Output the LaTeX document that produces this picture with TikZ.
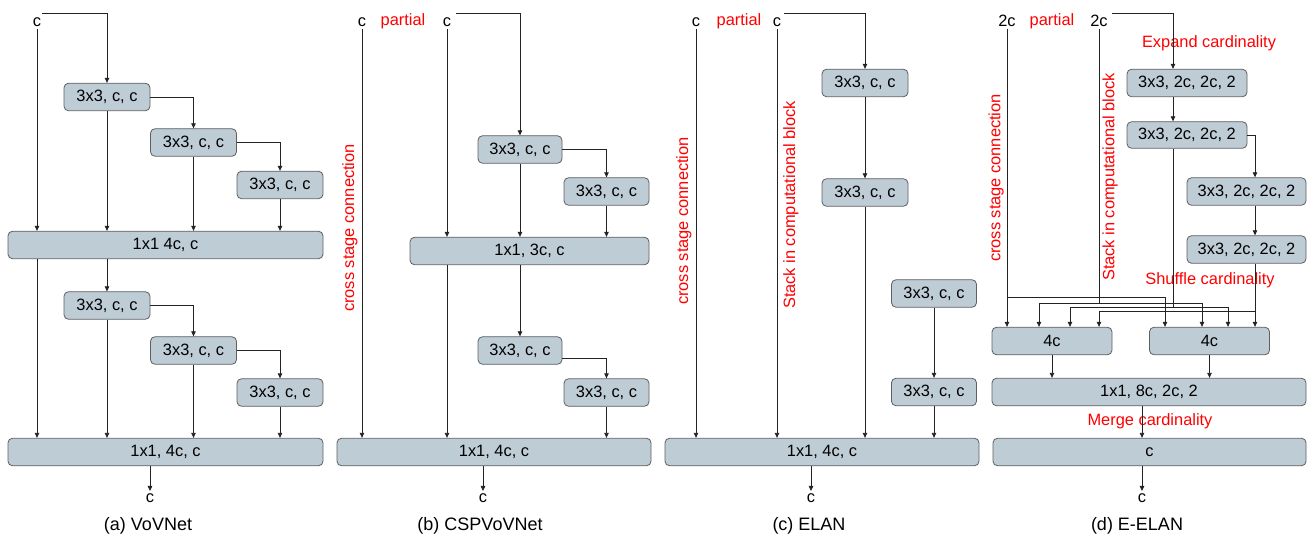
\documentclass[tikz,border=0pt]{standalone}
\usepackage{fontspec}
\setmainfont{Liberation Sans}
\usetikzlibrary{arrows.meta,calc}
\definecolor{boxfill}{RGB}{190,204,214}
\definecolor{boxline}{RGB}{95,95,95}
\definecolor{lineclr}{RGB}{35,35,35}
\definecolor{redtxt}{RGB}{255,0,0}
\newcommand{\fsb}{\fontsize{16.4}{19}\selectfont}
\newcommand{\fcap}{\fontsize{18}{21}\selectfont}
\tikzset{
  blk/.style={draw=boxline, fill=boxfill, rounded corners=4.5pt, line width=0.8pt, inner sep=0pt, minimum height=27.5pt, font=\fsb},
  arr/.style={draw=lineclr, line width=0.8pt, -{Triangle[length=5pt,width=4.5pt]}},
  ln/.style={draw=lineclr, line width=0.8pt},
  lbl/.style={inner sep=2pt, font=\fsb, anchor=base},
  redlbl/.style={inner sep=2pt, font=\fsb, text=redtxt, anchor=base},
  redrot/.style={inner sep=0pt, font=\fsb, text=redtxt, rotate=90},
  caplbl/.style={inner sep=0pt, font=\fcap, anchor=base}
}
\begin{document}
\begin{tikzpicture}[x=1pt,y=-1pt]
\useasboundingbox (0,0) rectangle (1312,537);

% ================= (a) VoVNet =================
\node[lbl] (ain) at (37,27) {c};
\coordinate (aS) at (42,13);
\node[blk, minimum width=86pt] (a1) at (107,97) {3x3, c, c};
\node[blk, minimum width=86pt] (a2) at (193.5,142.5) {3x3, c, c};
\node[blk, minimum width=86pt] (a3) at (280,185) {3x3, c, c};
\node[blk, minimum width=315pt] (aM) at (165.5,245) {1x1 4c, c};
\node[blk, minimum width=86pt] (a4) at (107,305.5) {3x3, c, c};
\node[blk, minimum width=86pt] (a5) at (193.5,350.5) {3x3, c, c};
\node[blk, minimum width=86pt] (a6) at (280,392.5) {3x3, c, c};
\node[blk, minimum width=315pt] (aF) at (165.5,452) {1x1, 4c, c};
\node[lbl] (aout) at (150,502) {c};
\node[caplbl] (acap) at (148,530) {(a) VoVNet};

\draw[arr] (aS) -| (a1.north);
\draw[arr] (ain.south) -- (ain.south |- aM.north);
\draw[arr] (a1.east) -| (a2.north);
\draw[arr] (a2.east) -| (a3.north);
\draw[arr] (a1.south) -- (a1.south |- aM.north);
\draw[arr] (a2.south) -- (a2.south |- aM.north);
\draw[arr] (a3.south) -- (a3.south |- aM.north);
\draw[arr] (a4.north |- aM.south) -- (a4.north);
\draw[arr] (ain.south |- aM.south) -- (ain.south |- aF.north);
\draw[arr] (a4.east) -| (a5.north);
\draw[arr] (a5.east) -| (a6.north);
\draw[arr] (a4.south) -- (a4.south |- aF.north);
\draw[arr] (a5.south) -- (a5.south |- aF.north);
\draw[arr] (a6.south) -- (a6.south |- aF.north);
\draw[arr] (aout |- aF.south) -- (aout.north);

% ================= (b) CSPVoVNet =================
\node[lbl] (bin1) at (362,27) {c};
\node[redlbl] (bpart) at (403,26) {partial};
\node[lbl] (bin2) at (447,27) {c};
\coordinate (bS) at (456,13);
\node[redrot] (bcross) at (350,228) {cross stage connection};
\node[blk, minimum width=84pt] (b1) at (520,149.5) {3x3, c, c};
\node[blk, minimum width=85pt] (b2) at (606.5,191.5) {3x3, c, c};
\node[blk, minimum width=239pt] (bM) at (529.5,251) {1x1, 3c, c};
\node[blk, minimum width=84pt] (b3) at (520,350.5) {3x3, c, c};
\node[blk, minimum width=85pt] (b4) at (606.5,392.5) {3x3, c, c};
\node[blk, minimum width=314pt] (bF) at (494,452) {1x1, 4c, c};
\node[lbl] (bout) at (483,502) {c};
\node[caplbl] (bcap) at (480,530) {(b) CSPVoVNet};

\draw[arr] (bS) -| (b1.north);
\draw[arr] (bin1.south) -- (bin1.south |- bF.north);
\draw[arr] (bin2.south) -- (bin2.south |- bM.north);
\draw[arr] (b1.east) -| (b2.north);
\draw[arr] (b1.south) -- (b1.south |- bM.north);
\draw[arr] (b2.south) -- (b2.south |- bM.north);
\draw[arr] (bin2.south |- bM.south) -- (bin2.south |- bF.north);
\draw[arr] (b3.north |- bM.south) -- (b3.north);
\draw[arr] ([yshift=-8pt]b3.east) -| (b4.north);
\draw[arr] (b4.south) -- (b4.south |- bF.north);
\draw[arr] (bout |- bF.south) -- (bout.north);

% ================= (c) ELAN =================
\node[lbl] (cin1) at (696,27) {c};
\node[redlbl] (cpart) at (739,26) {partial};
\node[lbl] (cin2) at (777,27) {c};
\coordinate (cS) at (784,13);
\node[redrot] (ccross) at (684,221) {cross stage connection};
\node[redrot] (cstack) at (791,205) {Stack in computational block};
\node[blk, minimum width=86pt] (c1) at (865,83) {3x3, c, c};
\node[blk, minimum width=86pt] (c2) at (865,192.5) {3x3, c, c};
\node[blk, minimum width=85pt] (c3) at (934,293.5) {3x3, c, c};
\node[blk, minimum width=85pt] (c4) at (934,392) {3x3, c, c};
\node[blk, minimum width=314pt] (cF) at (822,452) {1x1, 4c, c};
\node[lbl] (cout) at (811,502) {c};
\node[caplbl] (ccap) at (809,530) {(c) ELAN};

\draw[arr] (cS) -| (c1.north);
\draw[arr] (cin1.south) -- (cin1.south |- cF.north);
\draw[arr] (cin2.south) -- (cin2.south |- cF.north);
\draw[arr] (c1.south) -- (c2.north);
\draw[arr] (c2.south) -- (c2.south |- cF.north);
\draw[arr] (c3.south) -- (c4.north);
\draw[arr] (c4.south) -- (c4.south |- cF.north);
\draw[arr] (cout |- cF.south) -- (cout.north);

% ================= (d) E-ELAN =================
\node[lbl] (din1) at (1007,27) {2c};
\node[redlbl] (dpart) at (1052,26) {partial};
\node[lbl] (din2) at (1099,27) {2c};
\coordinate (dS) at (1112,13);
\coordinate (dcol) at (1173,0);
\coordinate (dcol2) at (1255,0);
\node[redlbl] (expand) at (1209,47.5) {Expand cardinality};
\node[redrot] (dcross) at (996,178) {cross stage connection};
\node[redrot] (dstack) at (1110,177) {Stack in computational block};
\node[blk, minimum width=120pt] (e1) at (1187,83) {3x3, 2c, 2c, 2};
\node[blk, minimum width=120pt, minimum height=26.5pt] (e2) at (1187,135) {3x3, 2c, 2c, 2};
\node[blk, minimum width=119pt] (e3) at (1246.5,191.5) {3x3, 2c, 2c, 2};
\node[blk, minimum width=119pt] (e4) at (1246.5,249.5) {3x3, 2c, 2c, 2};
\node[redlbl] (shuffle) at (1210,285) {Shuffle cardinality};
\node[blk, minimum width=120pt] (g1) at (1052,341) {4c};
\node[blk, minimum width=120pt] (g2) at (1209.5,341) {4c};
\node[blk, minimum width=314pt] (dM) at (1149,392) {1x1, 8c, 2c, 2};
\node[blk, minimum width=313pt] (dF) at (1149.5,452) {c};
\node[redlbl] (merge) at (1150,425) {Merge cardinality};
\node[lbl] (dout) at (1142,502) {c};
\node[caplbl] (dcap) at (1137,530) {(d) E-ELAN};

\draw[arr] (dS) -| (dcol |- e1.north);
\draw[arr] (dcol |- e1.south) -- (dcol |- e2.north);
\draw[arr] (e2.east) -| (dcol2 |- e3.north);
\draw[arr] (dcol2 |- e3.south) -- (dcol2 |- e4.north);

% shuffle
\coordinate (sh1) at (1007,297);
\coordinate (sh2) at (1099,303);
\coordinate (sh3) at (1173,307);
\coordinate (sh4) at (1255,311);
\coordinate (L2) at (1039,0);
\coordinate (L3) at (1070,0);
\coordinate (R1) at (1165,0);
\coordinate (R2) at (1202,0);
\coordinate (R3) at (1228,0);

\draw[arr] (din1.south) -- (din1.south |- g1.north);
\draw[arr] (sh1) -| (R1 |- g2.north);
\draw[ln] (din2.south) -- (sh2);
\draw[arr] (sh2) -| (L2 |- g1.north);
\draw[arr] (sh2) -| (R2 |- g2.north);
\draw[ln] (dcol |- e2.south) -- (sh3);
\draw[arr] (sh3) -| (L3 |- g1.north);
\draw[arr] (sh3) -| (R3 |- g2.north);
\draw[ln] (dcol2 |- e4.south) -- (sh4);
\draw[arr] (sh4) -- (dcol2 |- g2.north);
\draw[arr] (sh4) -| (sh2 |- g1.north);

\draw[arr] (g1.south) -- (g1.south |- dM.north);
\draw[arr] (g2.south) -- (g2.south |- dM.north);
\draw[arr] (dout |- dM.south) -- (dout |- dF.north);
\draw[arr] (dout |- dF.south) -- (dout.north);
\end{tikzpicture}
\end{document}
